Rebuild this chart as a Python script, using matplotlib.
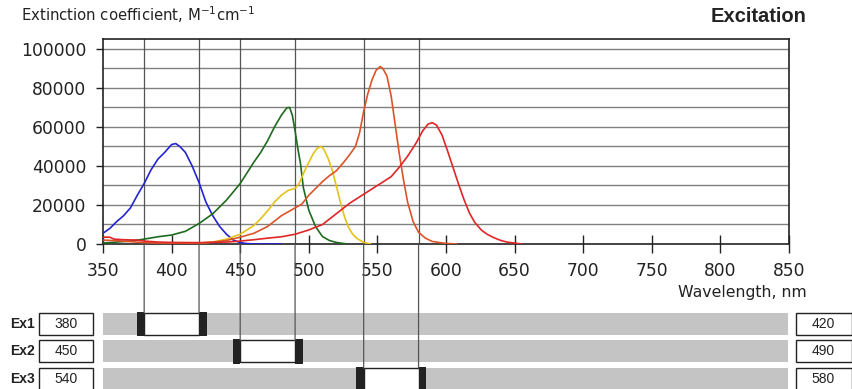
import matplotlib
matplotlib.use("Agg")
import matplotlib.pyplot as plt
from matplotlib.patches import Rectangle, ConnectionPatch

# excitation spectra (nm, M-1 cm-1)
blue_wl = [350, 355, 360, 365, 370, 375, 380, 385, 390, 395, 400, 403, 406, 410, 415,
           420, 425, 430, 435, 440, 445, 450, 455, 460, 480]
blue_val = [5500, 8000, 11500, 14500, 18500, 25000, 31000, 38000, 43500, 47000, 51000,
            51500, 50000, 47000, 40000, 31500, 21500, 14500, 9000, 5000, 2000, 700, 200, 50, 0]

green_wl = [350, 360, 370, 380, 390, 400, 410, 420, 430, 440, 450, 455, 460, 465, 470,
            475, 480, 484, 486, 488, 490, 492, 494, 496, 500, 505, 510, 515, 520, 528]
green_val = [500, 1000, 1500, 2500, 3700, 4600, 6500, 10500, 15500, 22500, 31000, 36500,
             42000, 47000, 53000, 60000, 66000, 69800, 70000, 66000, 58000, 49000, 41000,
             29000, 17300, 8800, 3800, 1800, 800, 0]

yellow_wl = [410, 420, 430, 440, 450, 460, 465, 470, 475, 480, 485, 490, 493, 496, 499,
             503, 506, 509, 511, 514, 517, 520, 523, 526, 529, 532, 535, 540, 545]
yellow_val = [0, 400, 1000, 2500, 5000, 9500, 13000, 17000, 21500, 25000, 27500, 28500,
              31000, 36000, 40500, 46000, 49000, 50000, 48500, 44000, 38000, 30000, 21500,
              14000, 8500, 5000, 2900, 800, 0]

orange_wl = [350, 360, 370, 380, 390, 400, 420, 430, 440, 450, 460, 470, 480, 490, 495,
             500, 505, 510, 515, 520, 525, 530, 534, 537, 540, 543, 546, 549, 552, 554,
             557, 560, 563, 566, 569, 572, 576, 580, 585, 590, 600, 608]
orange_val = [2000, 1700, 1200, 700, 500, 400, 500, 900, 1800, 3500, 5500, 9000, 14500,
              18500, 20500, 25000, 28500, 32000, 35000, 37500, 41500, 46000, 50000, 57000,
              68000, 77000, 84000, 89000, 91000, 90000, 86000, 76000, 61000, 46000, 33000,
              21500, 11500, 6000, 3000, 1300, 300, 0]

red_wl = [350, 355, 358, 365, 375, 380, 390, 400, 420, 440, 450, 460, 470, 480, 490, 500,
          510, 520, 530, 540, 550, 560, 566, 572, 578, 583, 587, 590, 593, 597, 601, 605,
          609, 613, 617, 621, 626, 630, 635, 640, 645, 650, 655]
red_val = [3500, 3500, 2500, 2200, 2000, 1500, 1000, 800, 700, 1000, 1500, 2200, 3000,
           3700, 5000, 7200, 10000, 15500, 21000, 25500, 30000, 34500, 39400, 45000, 51500,
           58000, 61500, 62200, 61000, 56000, 48000, 39500, 31000, 23000, 16000, 11000,
           7000, 5000, 3200, 1800, 900, 500, 0]

# excitation filter windows
ex_names = ["Ex1", "Ex2", "Ex3"]
ex_lo = [380, 450, 540]
ex_hi = [420, 490, 580]

x_ticks = [350, 400, 450, 500, 550, 600, 650, 700, 750, 800, 850]
y_ticks = [0, 20000, 40000, 60000, 80000, 100000]

W, H = 852, 389
fig = plt.figure(figsize=(W / 100, H / 100), dpi=100)
dark = "#222222"

ax = fig.add_axes([103 / W, 1 - 244 / H, 686 / W, 205 / H])
ax.set_xlim(350, 850)
ax.set_ylim(0, 105100)
for v in range(10000, 110000, 10000):
    ax.axhline(v, color="#808080", lw=1, zorder=1)
for lo, hi in zip(ex_lo, ex_hi):
    ax.axvline(lo, color="#555555", lw=0.9, zorder=1.5)
    ax.axvline(hi, color="#555555", lw=0.9, zorder=1.5)

ax.plot(blue_wl, blue_val, color="#2424d0", lw=1.2, zorder=3)
ax.plot(green_wl, green_val, color="#1e6a1e", lw=1.2, zorder=3)
ax.plot(yellow_wl, yellow_val, color="#e4c21c", lw=1.2, zorder=3)
ax.plot(orange_wl, orange_val, color="#dd5428", lw=1.2, zorder=3)
ax.plot(red_wl, red_val, color="#e02626", lw=1.2, zorder=3)

ax.set_xticks(x_ticks)
ax.set_yticks(y_ticks)
ax.set_yticklabels([str(v) for v in y_ticks])
ax.tick_params(axis="x", direction="inout", length=13, width=1, color=dark,
               labelsize=12.3, pad=6.5, labelcolor=dark)
ax.tick_params(axis="y", direction="out", length=5, width=1, color=dark,
               labelsize=12.3, pad=7, labelcolor=dark)
for s in ax.spines.values():
    s.set_color(dark)
    s.set_linewidth(1.2)

fig.text(21 / W, 1 - 15 / H, r"Extinction coefficient, M$^{-1}$cm$^{-1}$",
         fontsize=10.7, color=dark, va="center", ha="left")
fig.text(806 / W, 1 - 16 / H, "Excitation", fontsize=14.5, fontweight="bold",
         family="Liberation Sans", color=dark, va="center", ha="right")
fig.text(807 / W, 1 - 292 / H, "Wavelength, nm", fontsize=11.3, color=dark,
         va="center", ha="right")

# filter slider rows
bax = fig.add_axes([103 / W, 0, 686 / W, 89 / H])
bax.set_xlim(350, 850)
bax.set_ylim(2.364, -0.873)
bax.axis("off")
for r, (name, lo, hi) in enumerate(zip(ex_names, ex_lo, ex_hi)):
    bax.add_patch(Rectangle((348.5, r - 0.4), 500.8, 0.8, fc="#c4c4c4", ec="none"))
    bax.add_patch(Rectangle((lo, r - 0.4), hi - lo, 0.8, fc="white", ec=dark, lw=1))
    bax.add_patch(Rectangle((lo - 5.5, r - 0.44), 5.5, 0.88, fc=dark, ec="none"))
    bax.add_patch(Rectangle((hi, r - 0.44), 5.5, 0.88, fc=dark, ec="none"))
    bax.add_patch(Rectangle((303.4, r - 0.4), 39.3, 0.8, fc="white", ec=dark, lw=1,
                            clip_on=False))
    bax.add_patch(Rectangle((855.1, r - 0.4), 40.5, 0.8, fc="white", ec=dark, lw=1,
                            clip_on=False))
    bax.text(282.5, r, name, fontsize=10, fontweight="bold", family="Liberation Sans",
             va="center", ha="left", color=dark, clip_on=False)
    bax.text(323, r, str(lo), fontsize=10, family="Liberation Sans",
             va="center", ha="center", color=dark, clip_on=False)
    bax.text(875, r, str(hi), fontsize=10, family="Liberation Sans",
             va="center", ha="center", color=dark, clip_on=False)
    for v in (lo, hi):
        con = ConnectionPatch(xyA=(v, 0), coordsA="data", axesA=ax,
                              xyB=(v, r - 0.4), coordsB="data", axesB=bax,
                              color="#555555", lw=0.9)
        fig.add_artist(con)

fig.savefig("out.png", dpi=100)
